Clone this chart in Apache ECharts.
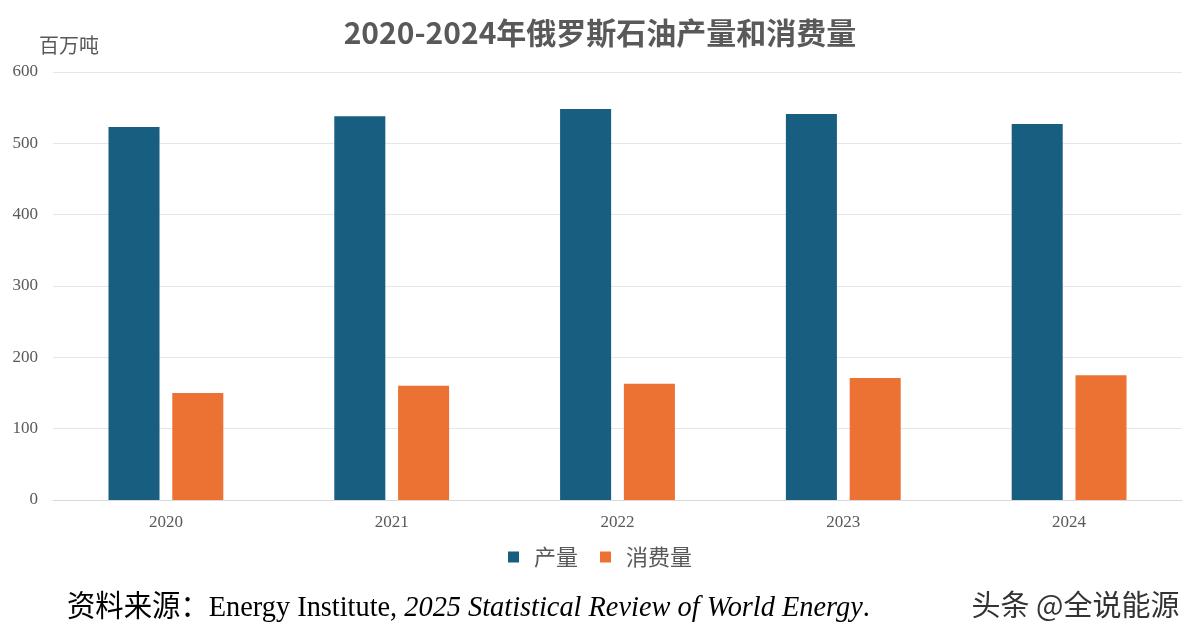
<!DOCTYPE html>
<html><head><meta charset="utf-8">
<script src="https://cdn.jsdelivr.net/npm/echarts@6/dist/echarts.min.js"></script>
<style>html,body{margin:0;padding:0;background:#fff}#c{width:1200px;height:640px}</style>
</head><body><div id="c"></div>
<script>
const categories = ['2020','2021','2022','2023','2024'];
const production = [523, 538, 548, 541, 527];
const consumption = [150, 160, 163, 171, 175];
const yTicks = [0, 100, 200, 300, 400, 500, 600];
const seriesNames = ['产量', '消费量'];

const chart = echarts.init(document.getElementById('c'));
chart.setOption({
  animation: false,
  backgroundColor: '#fff',
  title: {
    text: '2020-2024年俄罗斯石油产量和消费量',
    left: 'center', top: 13,
    textStyle: {fontFamily: 'Noto Sans CJK SC', fontSize: 30, fontWeight: 'bold', color: '#595959'}
  },
  legend: {
    data: seriesNames, bottom: 67, left: 'center',
    icon: 'rect', itemWidth: 11, itemHeight: 11, itemGap: 22,
    textStyle: {fontFamily: 'Noto Sans CJK SC', fontSize: 22, color: '#595959', padding: [0, 0, 0, 10]}
  },
  grid: {left: 53, right: 18, top: 72, bottom: 140, containLabel: false},
  xAxis: {
    type: 'category', data: categories,
    axisLine: {lineStyle: {color: '#d9d9d9'}},
    axisTick: {show: false},
    axisLabel: {fontFamily: 'Liberation Serif', fontSize: 17, color: '#595959', margin: 14}
  },
  yAxis: {
    type: 'value', min: yTicks[0], max: yTicks[yTicks.length - 1], interval: 100,
    name: '百万吨', nameLocation: 'end', nameGap: 17,
    nameTextStyle: {fontFamily: 'Noto Sans CJK SC', fontSize: 20, color: '#595959', align: 'left', padding: [0, 0, 0, -14]},
    axisLine: {show: false}, axisTick: {show: false},
    splitLine: {lineStyle: {color: '#e6e6e6'}},
    axisLabel: {fontFamily: 'Liberation Serif', fontSize: 17, color: '#595959', margin: 15}
  },
  series: [
    {name: seriesNames[0], type: 'bar', data: production, barWidth: '22.6%', barGap: '25%',
     itemStyle: {color: '#185E80'}},
    {name: seriesNames[1], type: 'bar', data: consumption, barWidth: '22.6%',
     itemStyle: {color: '#EB7233'}}
  ],
  graphic: [
    {type: 'text', left: 67, top: 593, scaleX: 0.945, style: {
      text: '{a|资料来源：Energy Institute, }{b|2025 Statistical Review of World Energy}{a|.}',
      rich: {
        a: {fontFamily: 'Liberation Serif, Noto Sans CJK SC', fontSize: 30, fill: '#000'},
        b: {fontFamily: 'Liberation Serif', fontStyle: 'italic', fontSize: 30, fill: '#000'}
      }
    }},
    {type: 'text', right: 20, top: 590, style: {
      text: '头条 @全说能源', fontFamily: 'Noto Sans CJK SC', fontSize: 29, fill: '#333',
      stroke: '#fff', lineWidth: 1
    }}
  ]
});
</script></body></html>
